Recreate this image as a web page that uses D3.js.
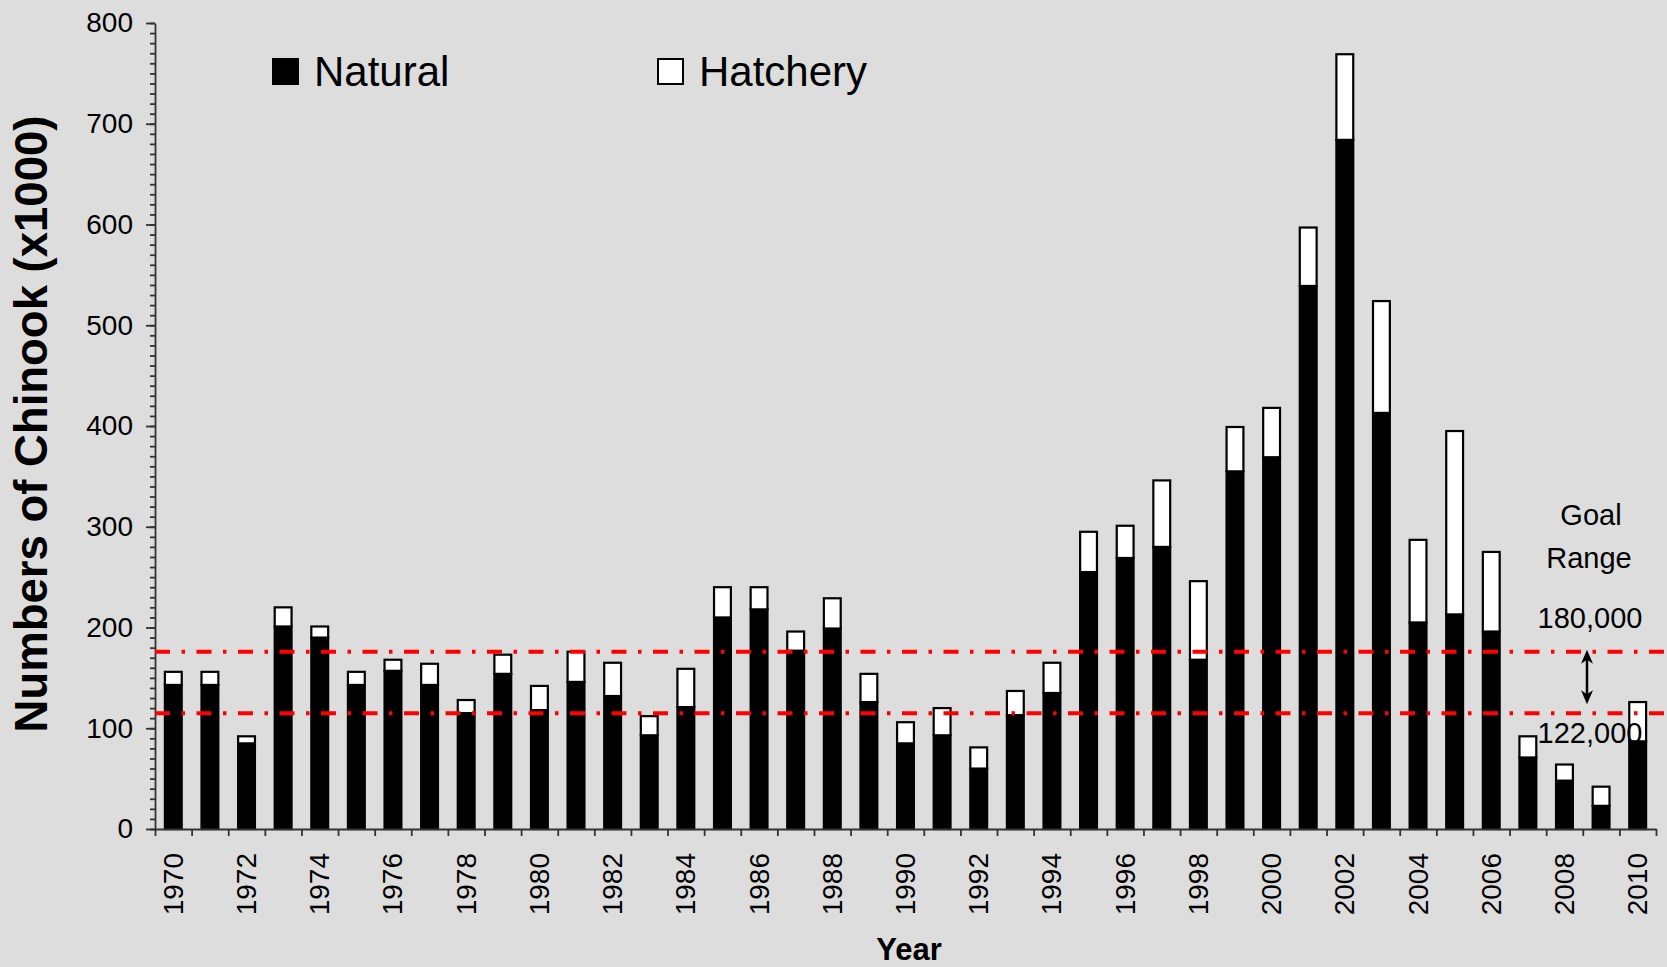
<!DOCTYPE html>
<html>
<head>
<meta charset="utf-8">
<script src="https://cdn.jsdelivr.net/npm/d3@7"></script>
<style>
	body { margin: 0; background: #dddddd; }
	svg { display: block; font-family: "Liberation Sans", Arial, sans-serif; }
</style>
</head>
<body>
<div id="page"></div>
<script>
// chinook escapement, thousands of fish
var years = d3.range(1970, 2011);
var natural = [143, 143, 85, 201, 190, 143, 157, 143, 115, 154,
	118, 146, 132, 93, 121, 210, 218, 177, 199, 126,
	85, 93, 60, 113, 135, 255, 269, 280, 168, 355,
	369, 539, 684, 413, 205, 213, 196, 71, 48, 23, 87];
var hatchery = [13, 13, 7, 19, 11, 13, 11, 21, 13, 19,
	24, 30, 33, 19, 38, 30, 22, 19, 30, 28,
	21, 27, 21, 24, 30, 40, 32, 66, 78, 44,
	49, 58, 85, 111, 82, 182, 79, 21, 16, 19, 39];
var seriesNames = ['Natural', 'Hatchery'];
var yTicks = [0, 100, 200, 300, 400, 500, 600, 700, 800];
var goalValues = [176, 115];
var goalLabels = ['180,000', '122,000'];

window.onload = function () {

	const width = 1667
	const height = 967

	var svg = d3.select('#page').append('svg')
		.attr('width', width)
		.attr('height', height);

	svg.append('rect')
		.attr('width', width).attr('height', height)
		.attr('fill', '#dddddd');

	// build a table for the stack layout
	var table = years.map(function(y, i){
		return { year: y, Natural: natural[i], Hatchery: hatchery[i] }
	});
	var stacked = d3.stack().keys(seriesNames)(table);

	var x = d3.scaleBand()
		.domain(years)
		.range([155, 1656])
		.paddingInner(0.54)
		.paddingOuter(0.27);

	var xEdge = d3.scaleLinear()
		.domain([1970, 2011])
		.range([155, 1656]);

	var y = d3.scaleLinear()
		.domain([0, 800])
		.range([829, 23]);

	// bars
	var fills = { Natural: '#000000', Hatchery: '#ffffff' };
	svg.append('g').attr('id', 'bars')
		.selectAll('g').data(stacked).enter().append('g')
		.attr('fill', function(s){ return fills[s.key] })
		.selectAll('rect').data(function(s){ return s }).enter().append('rect')
		.attr('x', function(d){ return x(d.data.year) })
		.attr('width', x.bandwidth())
		.attr('y', function(d){ return y(d[1]) })
		.attr('height', function(d){ return y(d[0]) - y(d[1]) })
		.attr('stroke', '#000')
		.attr('stroke-width', 2.2);

	// y axis, minor then major ticks
	var yMinor = svg.append('g')
		.attr('transform', 'translate(155,0)')
		.call(d3.axisLeft(y).tickValues(d3.range(0, 801, 10)).tickSize(5).tickFormat(''));
	yMinor.select('.domain').remove();

	var yAxis = svg.append('g')
		.attr('transform', 'translate(155,0)')
		.call(d3.axisLeft(y).tickValues(yTicks).tickSize(9).tickSizeOuter(0).tickPadding(13));
	yAxis.selectAll('text')
		.attr('font-size', 28)
		.attr('font-family', '"Liberation Sans", Arial, sans-serif')
		.attr('fill', '#000');

	// x axis: ticks at category edges, labels every other year
	var xAxis = svg.append('g')
		.attr('transform', 'translate(0,829)')
		.call(d3.axisBottom(xEdge).tickValues(d3.range(1970, 2012)).tickSize(7).tickSizeOuter(0).tickFormat(''));

	svg.selectAll('.domain, .tick line')
		.attr('stroke', '#333')
		.attr('stroke-width', 1.8);

	svg.append('g').attr('id', 'xlabels')
		.selectAll('text').data(years.filter(function(d){ return d % 2 == 0 })).enter().append('text')
		.attr('transform', function(d){
			return 'translate(' + (x(d) + x.bandwidth() / 2) + ',853) rotate(-90)'
		})
		.attr('text-anchor', 'end')
		.attr('dominant-baseline', 'central')
		.attr('font-size', 28)
		.text(function(d){ return d });

	// axis titles
	svg.append('text')
		.attr('x', 909).attr('y', 960)
		.attr('text-anchor', 'middle')
		.attr('font-size', 31)
		.attr('font-weight', 'bold')
		.text('Year');

	svg.append('text')
		.attr('transform', 'translate(47,424) rotate(-90)')
		.attr('text-anchor', 'middle')
		.attr('font-size', 45.5)
		.attr('font-weight', 'bold')
		.text('Numbers of Chinook (x1000)');

	// goal range lines
	svg.append('g').attr('id', 'goal')
		.selectAll('line').data(goalValues).enter().append('line')
		.attr('x1', 155).attr('x2', width)
		.attr('y1', function(d){ return y(d) })
		.attr('y2', function(d){ return y(d) })
		.attr('stroke', '#ff0000')
		.attr('stroke-width', 4)
		.attr('stroke-dasharray', '15,11.5,3.5,11.5');

	// double arrow between the two goal lines
	var ax = 1587;
	var yTop = y(goalValues[0]) - 2, yBot = y(goalValues[1]) - 9;
	svg.append('line')
		.attr('x1', ax).attr('x2', ax)
		.attr('y1', yTop + 8).attr('y2', yBot - 8)
		.attr('stroke', '#000').attr('stroke-width', 2.5);
	svg.append('path')
		.attr('d', 'M' + ax + ',' + yTop + 'L' + (ax - 6) + ',' + (yTop + 14) + 'L' + ax + ',' + (yTop + 10) + 'L' + (ax + 6) + ',' + (yTop + 14) + 'Z')
		.attr('fill', '#000');
	svg.append('path')
		.attr('d', 'M' + ax + ',' + yBot + 'L' + (ax - 6) + ',' + (yBot - 14) + 'L' + ax + ',' + (yBot - 10) + 'L' + (ax + 6) + ',' + (yBot - 14) + 'Z')
		.attr('fill', '#000');

	var goalText = svg.append('g')
		.attr('text-anchor', 'middle')
		.attr('font-size', 29);
	goalText.append('text').attr('x', 1591).attr('y', 525).text('Goal');
	goalText.append('text').attr('x', 1589).attr('y', 568).text('Range');
	goalText.selectAll('.val').data(goalLabels).enter().append('text')
		.attr('class', 'val')
		.attr('x', 1590)
		.attr('y', function(d, i){ return i == 0 ? 628 : 743 })
		.text(function(d){ return d });

	// legend
	var legend = svg.append('g').attr('id', 'legend')
		.selectAll('g').data(seriesNames).enter().append('g')
		.attr('transform', function(d, i){ return 'translate(' + [272, 657][i] + ',58)' });
	legend.append('rect')
		.attr('x', 1).attr('y', 1)
		.attr('width', 25).attr('height', 25)
		.attr('fill', function(d){ return fills[d] })
		.attr('stroke', '#000').attr('stroke-width', 2);
	legend.append('text')
		.attr('x', 42).attr('y', 28)
		.attr('font-size', 42)
		.text(function(d){ return d });

}
</script>
</body>
</html>
